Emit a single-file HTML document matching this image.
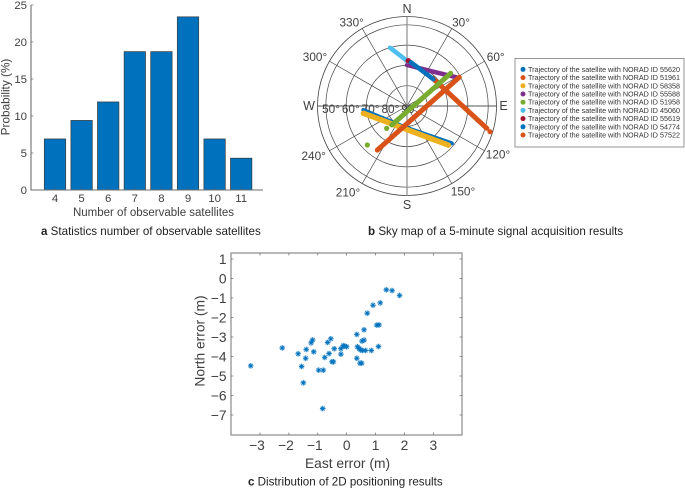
<!DOCTYPE html>
<html>
<head>
<meta charset="utf-8">
<title>Satellite observation charts</title>
<style>
html,body{margin:0;padding:0;background:#fff;}
#stage{position:relative;width:685px;height:489px;overflow:hidden;font-family:"Liberation Sans",sans-serif;}
svg{position:absolute;left:0;top:0;}
text{font-family:"Liberation Sans",sans-serif;}
</style>
</head>
<body>
<div id="stage">
<svg id="s" width="685" height="489" viewBox="0 0 685 489" xmlns="http://www.w3.org/2000/svg">
  <text x="41" y="235" font-size="11.6" fill="#222"><tspan font-weight="bold">a</tspan> Statistics number of observable satellites</text>
  <text x="368" y="235" font-size="11.6" fill="#222"><tspan font-weight="bold">b</tspan> Sky map of a 5-minute signal acquisition results</text>
  <text x="248" y="485.5" font-size="11.6" fill="#222"><tspan font-weight="bold">c</tspan> Distribution of 2D positioning results</text>
</svg>
</div>
<script>
// Bar chart data
const barCategories = [4, 5, 6, 7, 8, 9, 10, 11];
const barValues = [6.9, 9.4, 11.9, 18.7, 18.7, 23.4, 6.9, 4.3];
const barTicks = [0, 5, 10, 15, 20, 25];

// Sky map data: azimuth and elevation in degrees
const satIds = ["55620", "51961", "58358", "55588", "51958", "45060", "55619", "54774", "57522"];
const satColors = ["#0072bd", "#d95319", "#edb120", "#7e2f8e", "#77ac30", "#4dbeee", "#a2142f", "#0072bd", "#d95319"];
const satWidths = [4, 5, 5.5, 4.5, 5, 4.5, 5.5, 4.5, 5];
const satAz = [
  [264.8, 190, 129.8],
  [42.8, 87.1, 105.6],
  [260.5, 189.4, 133.4],
  [0, 37.5, 59.6],
  [218.9, 64.2, 53.2],
  [343.7, 1.7],
  [1.7, 1.7],
  [5.2, 44.6],
  [214, 124.1, 61.2]
];
const satEl = [
  [68.4, 79.7, 61.3],
  [71.4, 64, 49.2],
  [68.2, 78.9, 62],
  [69.8, 68.7, 62],
  [78, 82.2, 63.1],
  [60.1, 68.2],
  [67.7, 67.7],
  [68.4, 71.5],
  [63.8, 83.3, 60.6]
];
const extraDotSeries = [1, 4, 4];
const extraDotAz = [107.2, 222.3, 225.5];
const extraDotEl = [47.2, 75.1, 62.6];
const ringElevations = [80, 70, 60, 50];
const elevationLabels = [50, 60, 70, 80, 90];
const spokeAngles = [30, 60, 120, 150, 210, 240, 300, 330];
const spokeLabels = [30, 60, 120, 150, 210, 240, 300, 330];

// Scatter data
const eastErr = [-3.32,-2.23,-1.68,-1.5,-1.56,-1.42,-1.4,-1.14,-1.18,-1.23,-0.97,-0.81,-0.83,-0.76,-0.61,-0.66,-0.55,-0.51,-0.46,-0.43,-0.2,-0.2,-0.12,-0.07,0,0.35,0.35,0.37,0.43,0.48,0.46,0.52,0.53,0.6,0.6,0.54,0.65,0.85,1.1,0.71,0.91,1.16,1.04,1.12,1.37,1.57,1.83];
const northErr = [-4.48,-3.56,-3.86,-5.35,-4.51,-4.09,-3.64,-3.76,-3.15,-3.3,-4.7,-4.7,-6.67,-4.05,-3.85,-3.28,-3.09,-4.27,-4.27,-3.6,-3.88,-3.6,-3.44,-3.47,-3.5,-2.87,-4.09,-3.5,-3.59,-3.66,-4.34,-4.34,-3.21,-3.16,-2.63,-3.69,-3.69,-3.69,-3.49,-1.78,-1.37,-1.25,-2.39,-2.38,-0.58,-0.62,-0.87];
const scatterXTicks = [-3, -2, -1, 0, 1, 2, 3];
const scatterYTicks = [1, 0, -1, -2, -3, -4, -5, -6, -7];

const svg = document.getElementById('s');
const NS = 'http://www.w3.org/2000/svg';
function mk(tag, attrs, parent) {
  const e = document.createElementNS(NS, tag);
  for (const k in attrs) e.setAttribute(k, attrs[k]);
  (parent || svg).appendChild(e);
  return e;
}
function group(parent) { return mk('g', {}, parent); }
function label(str, x, y, size, anchor, fill, parent) {
  const t = mk('text', {x: x, y: y, 'font-size': size, 'text-anchor': anchor, fill: fill}, parent);
  t.textContent = str;
  return t;
}
function minus(v) { return String(v).replace('-', '\u2212'); }

/* ---------- Chart A: bars ---------- */
const ax = v => 55 + (v - 4) * 26.6;
const ay = v => 190 - v * 7.4;
const gA = group();


barCategories.forEach((c, i) => {
  const r = mk('rect', {x: ax(c) - 10.7, y: ay(barValues[i]), width: 21.4, height: 190 - ay(barValues[i]), fill: '#0072bd', stroke: '#3a3a3a', 'stroke-width': 0.7}, gA);
  
  
  const t = label(c, ax(c), 202, 11.4, 'middle', '#404040', gA);
  
  
  mk('line', {x1: ax(c), x2: ax(c), y1: 190, y2: 187.5, stroke: '#555', 'stroke-width': 0.6}, gA);
});
barTicks.forEach(v => {
  const t = label(v, 27, ay(v) + 4, 11.4, 'end', '#404040', gA);
  
  
  mk('line', {x1: 31, x2: 33.5, y1: ay(v), y2: ay(v), stroke: '#555', 'stroke-width': 0.6}, gA);
});
const axA = mk('path', {d: 'M31 5V190H263', fill: 'none', stroke: '#6e6e6e', 'stroke-width': 1.1}, gA);


const xtA = label('Number of observable satellites', 153.5, 216, 11.5, 'middle', '#404040', gA);


const ytA = label('Probability (%)', 0, 0, 11.8, 'middle', '#404040', gA);
ytA.setAttribute('transform', 'translate(9.5,97) rotate(-90)');



/* ---------- Chart B: sky map ---------- */
const cx = 407, cy = 106, R = 89.5;
const rad = el => (90 - el) * 2.03;
const px = (az, el) => cx + rad(el) * Math.sin(az * Math.PI / 180);
const py = (az, el) => cy - rad(el) * Math.cos(az * Math.PI / 180);
const gB = group();


const outer = mk('circle', {cx: cx, cy: cy, r: R, fill: 'none', stroke: '#444', 'stroke-width': 0.8}, gB);


ringElevations.forEach(el => {
  const c = mk('circle', {cx: cx, cy: cy, r: rad(el), fill: 'none', stroke: '#444', 'stroke-width': 0.7}, gB);
  
  
});
spokeAngles.forEach(a => {
  const l = mk('line', {x1: cx, y1: cy, x2: cx + R * Math.sin(a * Math.PI / 180), y2: cy - R * Math.cos(a * Math.PI / 180), stroke: '#444', 'stroke-width': 0.7}, gB);
  
  
});
mk('line', {x1: cx, x2: cx, y1: cy - R, y2: cy + R, stroke: '#8c8c8c', 'stroke-width': 1.2}, gB);
mk('line', {x1: cx - R, x2: cx + R, y1: cy, y2: cy, stroke: '#555', 'stroke-width': 0.9}, gB);
elevationLabels.forEach(el => {
  const t = label(el + '\u00b0', cx - 76 + (el - 50) * 1.98, 113, 11.8, 'middle', '#404040', gB);
  
  
});
const dirNames = ['N', 'E', 'S', 'W'];
const dirX = [407, 503.5, 407, 309];
const dirY = [13, 110, 209, 110];
dirNames.forEach((n, i) => {
  const t = label(n, dirX[i], dirY[i], 12.5, 'middle', '#404040', gB);
  
  
});
const spokeLabelX = [461, 495.7, 498, 463, 348, 313.7, 315, 351.7];
const spokeLabelY = [26.5, 61, 158.5, 195.5, 196.5, 160, 61, 26.5];
spokeLabels.forEach((a, i) => {
  const t = label(a + '\u00b0', spokeLabelX[i], spokeLabelY[i], 11.8, 'middle', '#404040', gB);
  
  
});
satIds.forEach((id, i) => {
  const pts = satAz[i].map((az, j) => px(az, satEl[i][j]).toFixed(1) + ',' + py(az, satEl[i][j]).toFixed(1)).join(' ');
  const p = mk('polyline', {points: pts, fill: 'none', stroke: satColors[i], 'stroke-width': satWidths[i], 'stroke-linecap': 'round', 'stroke-linejoin': 'round'}, gB);
  
  
});
extraDotAz.forEach((az, i) => {
  const d = mk('circle', {cx: px(az, extraDotEl[i]), cy: py(az, extraDotEl[i]), r: 2.6, fill: satColors[extraDotSeries[i]]}, gB);
  
  
});

/* Legend */
const gL = group();


mk('rect', {x: 515, y: 58.5, width: 169, height: 88.5, fill: '#fff', stroke: '#7a7a7a', 'stroke-width': 0.8}, gL);
satIds.forEach((id, i) => {
  const y = 69.4 + i * 8.2;
  mk('circle', {cx: 523, cy: y, r: 2.5, fill: satColors[i]}, gL);
  const t = label('Trajectory of the satellite with NORAD ID ' + id, 528, y + 2.5, 7.2, 'start', '#333', gL);
  t.setAttribute('textLength', '152');
  t.setAttribute('lengthAdjust', 'spacingAndGlyphs');
  
  
});

/* ---------- Chart C: scatter ---------- */
const sx = v => 346.7 + v * 28.9;
const sy = v => 278.5 - v * 19.5;
const gC = group();


const box = mk('rect', {x: 231, y: 253, width: 231, height: 182, fill: 'none', stroke: '#8a8a8a', 'stroke-width': 1.2}, gC);


scatterXTicks.forEach(v => {
  mk('line', {x1: sx(v), x2: sx(v), y1: 435, y2: 432.5, stroke: '#555', 'stroke-width': 0.6}, gC);
  mk('line', {x1: sx(v), x2: sx(v), y1: 253, y2: 255.5, stroke: '#555', 'stroke-width': 0.6}, gC);
  const t = label(minus(v), sx(v) - (v < 0 ? 3 : 0), 450, 13.8, 'middle', '#404040', gC);
  
  
});
scatterYTicks.forEach(v => {
  mk('line', {x1: 231, x2: 233.5, y1: sy(v), y2: sy(v), stroke: '#555', 'stroke-width': 0.6}, gC);
  mk('line', {x1: 462, x2: 459.5, y1: sy(v), y2: sy(v), stroke: '#555', 'stroke-width': 0.6}, gC);
  const t = label(minus(v), 226.5, sy(v) + 5, 13.8, 'end', '#404040', gC);
  
  
});
const xtC = label('East error (m)', 347.5, 468, 13.8, 'middle', '#404040', gC);


const ytC = label('North error (m)', 0, 0, 13.8, 'middle', '#404040', gC);
ytC.setAttribute('transform', 'translate(204.5,341) rotate(-90)');


eastErr.forEach((e, i) => {
  const x = sx(e), y = sy(northErr[i]);
  const g = group(gC);
  
  
  const d = 'M' + (x - 2.7) + ' ' + y + 'H' + (x + 2.7) + 'M' + x + ' ' + (y - 2.7) + 'V' + (y + 2.7) +
    'M' + (x - 1.9) + ' ' + (y - 1.9) + 'L' + (x + 1.9) + ' ' + (y + 1.9) +
    'M' + (x - 1.9) + ' ' + (y + 1.9) + 'L' + (x + 1.9) + ' ' + (y - 1.9);
  mk('circle', {cx: x, cy: y, r: 3, fill: '#0072bd', 'fill-opacity': 0.22}, g);
  mk('path', {d: d, fill: 'none', stroke: '#0072bd', 'stroke-width': 0.8}, g);
  mk('circle', {cx: x, cy: y, r: 1.2, fill: '#0072bd'}, g);
});
</script>
</body>
</html>
